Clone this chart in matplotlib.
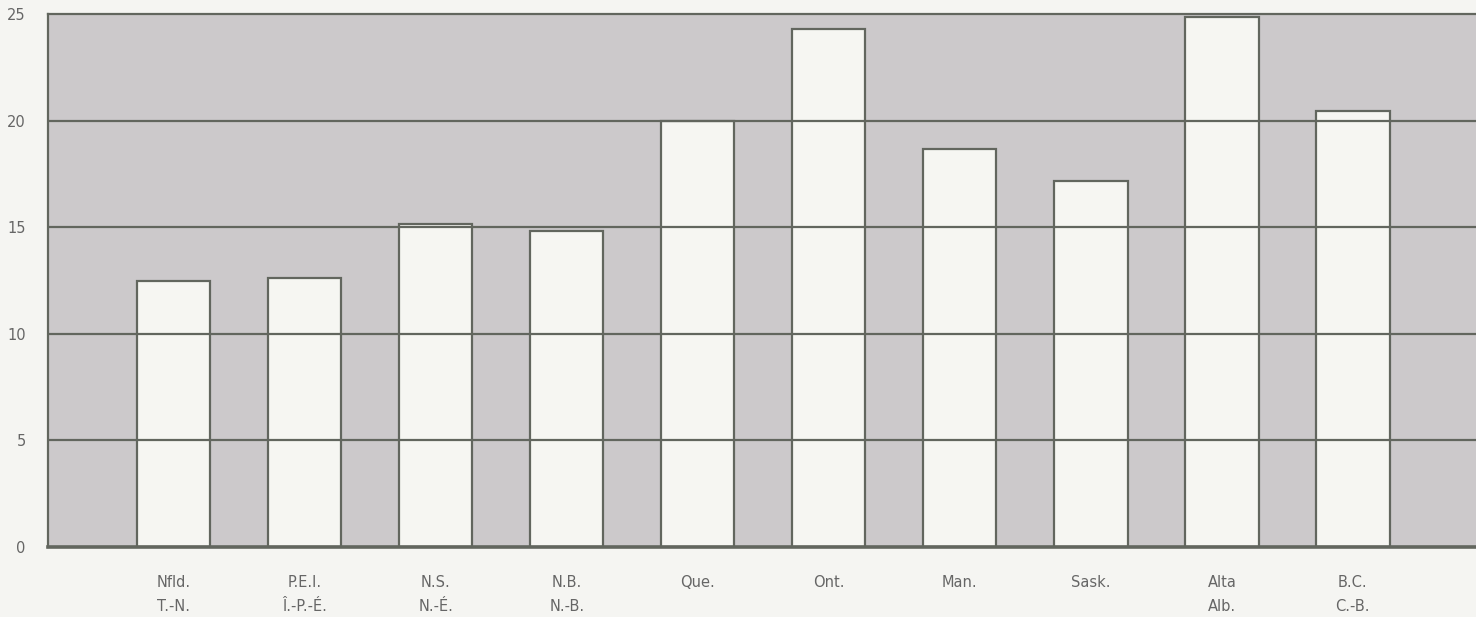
import numpy as np
import matplotlib.pyplot as plt

provinces_en = ["Nfld.", "P.E.I.", "N.S.", "N.B.", "Que.", "Ont.", "Man.", "Sask.", "Alta", "B.C."]
provinces_fr = ["T.-N.", "Î.-P.-É.", "N.-É.", "N.-B.", " ", " ", " ", " ", "Alb.", "C.-B."]
values = [12.45, 12.6, 15.15, 14.8, 20.0, 24.3, 18.65, 17.15, 24.85, 20.45]
yticks = [0, 5, 10, 15, 20, 25]

line_col = "#62665e"
bg_col = "#ccc9cb"
bar_col = "#f6f6f2"

fig = plt.figure(figsize=(14.76, 6.17), dpi=100, facecolor="#f5f5f2")
ax = fig.add_axes([0.0325, 0.1135, 0.9675, 0.864])
ax.set_facecolor(bg_col)

x = np.arange(len(values))
ax.bar(x, values, width=0.56, color=bar_col, edgecolor=line_col, linewidth=1.6, zorder=2)

# grid lines sit on top of the bars
for y in yticks[1:-1]:
    ax.axhline(y, color=line_col, linewidth=1.6, zorder=3)

ax.set_xlim(-0.96, 9.94)
ax.set_ylim(0, 25)
ax.set_yticks(yticks)
ax.set_yticklabels([str(v) for v in yticks], color="#666666", fontsize=10.5)
ax.tick_params(axis="y", length=0, pad=16)
ax.set_xticks(x)
ax.set_xticklabels([f"{e}\n{f}" for e, f in zip(provinces_en, provinces_fr)],
                   color="#666666", fontsize=10.5, linespacing=1.75)
ax.tick_params(axis="x", length=0, pad=20)

for side in ["top", "left"]:
    ax.spines[side].set_color(line_col)
    ax.spines[side].set_linewidth(1.6)
ax.spines["bottom"].set_color(line_col)
ax.spines["bottom"].set_linewidth(2.6)
ax.spines["right"].set_visible(False)

fig.savefig("out.png", dpi=100, facecolor=fig.get_facecolor())
